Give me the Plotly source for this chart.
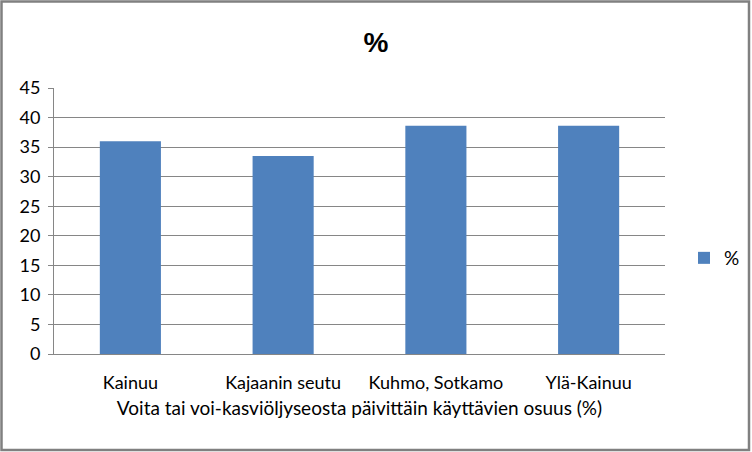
import plotly.graph_objects as go

categories = ["Kainuu", "Kajaanin seutu", "Kuhmo, Sotkamo", "Ylä-Kainuu"]
values = [36.0, 33.5, 38.6, 38.6]
series_name = "%"
title_text = "%"
x_title = "Voita tai voi-kasviöljyseosta päivittäin käyttävien osuus (%)"

W, H = 752, 452
L, R, T, B = 54, 87, 88, 98
pw, ph = W - L - R, H - T - B

fig = go.Figure()
fig.add_trace(go.Bar(x=categories, y=values, name=series_name,
                     marker=dict(color="#4F81BD", line=dict(width=0)),
                     showlegend=True))

gray = "#868686"
font = "Lato, 'Open Sans', sans-serif"
fig.update_layout(
    width=W, height=H,
    margin=dict(l=L, r=R, t=T, b=B, autoexpand=False),
    paper_bgcolor="white", plot_bgcolor="white",
    bargap=0.6,
    font=dict(family=font, size=18, color="black"),
    title=dict(text="<b>%s</b>" % title_text, x=0.5, xanchor="center",
               y=1 - 42 / H, yanchor="middle",
               font=dict(size=28, family="'Liberation Sans', Arial, sans-serif")),
    showlegend=True,
    legend=dict(x=(684 - L) / pw, xanchor="left", y=(H - B - 258) / ph, yanchor="middle",
                font=dict(size=19), bgcolor="rgba(0,0,0,0)", itemwidth=30),
    xaxis=dict(showline=True, linecolor=gray, linewidth=1, ticks="outside", ticklen=12,
               tickcolor="rgba(0,0,0,0)",
               tickfont=dict(size=18), title=dict(text=x_title, font=dict(size=19), standoff=10)),
    yaxis=dict(range=[0, 45], dtick=5, showline=True, linecolor=gray, linewidth=1,
               gridcolor=gray, gridwidth=1, ticks="outside", ticklen=5, tickcolor=gray,
               ticklabelstandoff=4,
               tickfont=dict(size=18), zeroline=False),
)
fig.add_shape(type="rect", xref="paper", yref="paper",
              x0=-(L - 1.5) / pw, x1=(pw + R - 3) / pw,
              y0=-(B - 2) / ph, y1=(ph + T - 1.5) / ph,
              line=dict(color="#808080", width=2.5), fillcolor="rgba(0,0,0,0)", layer="above")
fig.write_html("out.html", config={"displayModeBar": False},
               post_script="document.body.style.margin='0';document.body.style.overflow='hidden';")
